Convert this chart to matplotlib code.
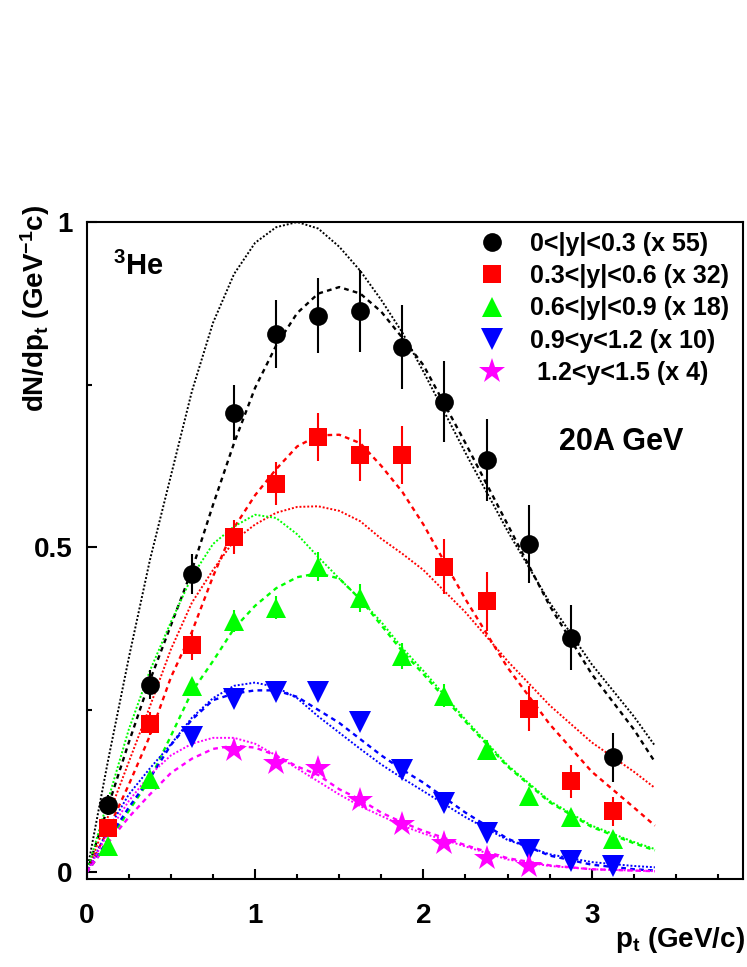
import matplotlib as mpl
mpl.use('Agg')
import matplotlib.pyplot as plt
from matplotlib.lines import Line2D
from matplotlib.ticker import MultipleLocator

plt.rcParams['font.family'] = ['Liberation Sans', 'DejaVu Sans']
plt.rcParams['font.weight'] = 'bold'
plt.rcParams['mathtext.fontset'] = 'custom'
plt.rcParams['mathtext.rm'] = 'Liberation Sans:bold'
plt.rcParams['mathtext.bf'] = 'Liberation Sans:bold'
plt.rcParams['mathtext.default'] = 'bf'

# measured points (bin centres in pt)
pt_all = [0.125, 0.375, 0.625, 0.875, 1.125, 1.375, 1.625, 1.875, 2.125, 2.375, 2.625, 2.875, 3.125]
pt_blue = [0.625, 0.875, 1.125, 1.375, 1.625, 1.875, 2.125, 2.375, 2.625, 2.875, 3.125]
pt_mag = [0.875, 1.125, 1.375, 1.625, 1.875, 2.125, 2.375, 2.625]

black_y = [0.104, 0.289, 0.459, 0.707, 0.828, 0.856, 0.863, 0.808, 0.724, 0.634, 0.505, 0.361, 0.177]
black_err = [0.015, 0.022, 0.031, 0.042, 0.052, 0.058, 0.063, 0.065, 0.062, 0.063, 0.060, 0.050, 0.038]
red_y = [0.069, 0.229, 0.349, 0.516, 0.598, 0.670, 0.642, 0.642, 0.470, 0.417, 0.252, 0.140, 0.094]
red_err = [0.012, 0.018, 0.022, 0.026, 0.033, 0.037, 0.040, 0.045, 0.042, 0.045, 0.035, 0.026, 0.022]
green_y = [0.040, 0.143, 0.286, 0.387, 0.407, 0.470, 0.422, 0.333, 0.272, 0.189, 0.117, 0.086, 0.052]
green_err = [0.005, 0.008, 0.012, 0.017, 0.018, 0.022, 0.022, 0.020, 0.018, 0.014, 0.010, 0.008, 0.006]
blue_y = [0.209, 0.266, 0.278, 0.278, 0.232, 0.158, 0.107, 0.061, 0.035, 0.017, 0.010]
blue_err = [0.008, 0.009, 0.010, 0.010, 0.009, 0.008, 0.007, 0.006, 0.005, 0.004, 0.004]
mag_y = [0.189, 0.169, 0.161, 0.112, 0.074, 0.045, 0.023, 0.010]
mag_err = [0.006, 0.006, 0.006, 0.005, 0.004, 0.004, 0.003, 0.003]

# curves (fit = dashed, model = dotted)
pt_curve = [0, 0.125, 0.25, 0.375, 0.5, 0.625, 0.75, 0.875, 1.0, 1.125, 1.25, 1.375,
            1.5, 1.625, 1.75, 1.875, 2.0, 2.25, 2.5, 2.75, 3.0, 3.25, 3.375]
black_fit = [0, 0.10, 0.20, 0.295, 0.38, 0.465, 0.565, 0.66, 0.745, 0.81, 0.86, 0.89,
             0.90, 0.89, 0.862, 0.822, 0.78, 0.66, 0.535, 0.41, 0.305, 0.22, 0.17]
black_model = [0, 0.17, 0.33, 0.48, 0.61, 0.74, 0.845, 0.92, 0.968, 0.992, 1.0, 0.99,
               0.962, 0.925, 0.88, 0.83, 0.77, 0.645, 0.525, 0.415, 0.32, 0.24, 0.195]
red_fit = [0, 0.065, 0.135, 0.21, 0.30, 0.37, 0.455, 0.53, 0.58, 0.62, 0.655, 0.672,
           0.673, 0.66, 0.625, 0.585, 0.535, 0.42, 0.315, 0.228, 0.155, 0.10, 0.072]
red_model = [0, 0.085, 0.17, 0.255, 0.343, 0.415, 0.465, 0.51, 0.535, 0.553, 0.562, 0.563,
             0.556, 0.54, 0.513, 0.49, 0.465, 0.40, 0.325, 0.257, 0.20, 0.155, 0.13]
green_fit = [0, 0.045, 0.095, 0.143, 0.21, 0.278, 0.325, 0.375, 0.41, 0.437, 0.454, 0.46,
             0.452, 0.42, 0.38, 0.34, 0.305, 0.232, 0.163, 0.108, 0.07, 0.045, 0.034]
green_model = [0, 0.11, 0.22, 0.31, 0.385, 0.455, 0.505, 0.532, 0.55, 0.545, 0.52, 0.485,
               0.452, 0.42, 0.385, 0.345, 0.31, 0.235, 0.165, 0.11, 0.072, 0.047, 0.036]
blue_fit = [0, 0.05, 0.10, 0.145, 0.196, 0.235, 0.265, 0.275, 0.28, 0.28, 0.27, 0.25,
            0.23, 0.205, 0.18, 0.158, 0.138, 0.092, 0.052, 0.026, 0.012, 0.005, 0.003]
blue_model = [0, 0.065, 0.12, 0.16, 0.197, 0.238, 0.268, 0.287, 0.292, 0.285, 0.268, 0.24,
              0.215, 0.19, 0.166, 0.145, 0.125, 0.085, 0.05, 0.028, 0.016, 0.01, 0.008]
mag_fit = [0, 0.045, 0.085, 0.12, 0.153, 0.175, 0.19, 0.195, 0.192, 0.18, 0.163, 0.15,
           0.128, 0.112, 0.092, 0.077, 0.064, 0.042, 0.022, 0.011, 0.005, 0.003, 0.002]
mag_model = [0, 0.06, 0.11, 0.15, 0.18, 0.198, 0.207, 0.207, 0.198, 0.18, 0.16, 0.14,
             0.12, 0.102, 0.087, 0.072, 0.06, 0.04, 0.02, 0.01, 0.005, 0.003, 0.002]

labels = ['0<|y|<0.3 (x 55)', '0.3<|y|<0.6 (x 32)', '0.6<|y|<0.9 (x 18)',
          '0.9<y<1.2 (x 10)', ' 1.2<y<1.5 (x 4)']

fig = plt.figure(figsize=(7.47, 9.67), dpi=100)
ax = fig.add_axes([0.1161, 0.0910, 0.8789, 0.6794])

series = [
    (pt_all, black_y, black_err, black_fit, black_model, '#000000', 'o', 13.5),
    (pt_all, red_y, red_err, red_fit, red_model, '#ff0000', 's', 12.5),
    (pt_all, green_y, green_err, green_fit, green_model, '#00ff00', '^', 14.5),
    (pt_blue, blue_y, blue_err, blue_fit, blue_model, '#0000ff', 'v', 15.5),
    (pt_mag, mag_y, mag_err, mag_fit, mag_model, '#ff00ff', '*', 19),
]

handles = []
for x, y, e, fit, model, col, mk, ms in series:
    ax.plot(pt_curve, model, color=col, lw=1.4, dashes=(1, 1.0), zorder=2)
    ax.plot(pt_curve, fit, color=col, lw=1.7, dashes=(2, 1.8), zorder=2)
    ax.errorbar(x, y, yerr=e, fmt='none', ecolor=col, elinewidth=1.5, capsize=0, zorder=3)
    ax.plot(x, y, linestyle='none', marker=mk, color=col, markersize=ms,
            markeredgewidth=0, zorder=4)
    handles.append(Line2D([], [], linestyle='none', marker=mk, color=col,
                          markersize=ms, markeredgewidth=0))

ax.set_xlim(0, 3.9)
ax.set_ylim(-0.01, 1.0)
ax.xaxis.set_major_locator(MultipleLocator(1))
ax.xaxis.set_minor_locator(MultipleLocator(0.25))
ax.yaxis.set_major_locator(MultipleLocator(0.5))
ax.yaxis.set_minor_locator(MultipleLocator(0.25))
ax.set_xticks([0, 1, 2, 3])
ax.set_xticklabels(['0', '1', '2', '3'])
ax.set_yticks([0, 0.5, 1])
ax.set_yticklabels(['0', '0.5', '1'])
ax.tick_params(which='both', direction='in', top=False, right=False, width=1.5,
               labelsize=20)
ax.tick_params(which='major', length=7)
ax.tick_params(which='minor', length=3.5)
ax.tick_params(axis='x', pad=17)
ax.tick_params(axis='y', pad=10)
for sp in ax.spines.values():
    sp.set_linewidth(1.5)

ax.text(0.155, 0.919, r'$^{3}$He', fontsize=21, fontweight='bold')
ax.text(2.805, 0.649, '20A GeV', fontsize=22, fontweight='bold')

ax.legend(handles, labels, loc='upper left', bbox_to_anchor=(0.599, 0.985),
          frameon=False, fontsize=18, handlelength=1.0, handletextpad=1.0,
          labelspacing=0.33, borderpad=0, borderaxespad=0)

fig.text(0.047, 1 - 205 / 967, r'dN/dp$_{t}$ (GeV$^{-1}$c)', rotation=90,
         ha='center', va='top', fontsize=20, fontweight='bold')
fig.text(0.997, 1 - 940 / 967, r'p$_{t}$ (GeV/c)', ha='right', va='center',
         fontsize=20, fontweight='bold')

fig.savefig('out.png', dpi=100)
